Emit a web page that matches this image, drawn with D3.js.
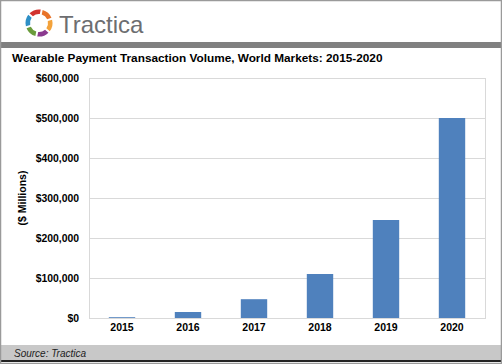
<!DOCTYPE html>
<html>
<head>
<meta charset="utf-8">
<script src="https://cdn.jsdelivr.net/npm/d3@7"></script>
<style>
  body { margin: 0; background: #fff; }
  svg { display: block; font-family: Arial, "Liberation Sans", sans-serif; }
</style>
</head>
<body>
<div id="chart"></div>
<script>
const years = ['2015', '2016', '2017', '2018', '2019', '2020'];
const volume = [2000, 15000, 47000, 110000, 245000, 500000];
const yTicks = [0, 100000, 200000, 300000, 400000, 500000, 600000];

const W = 502, H = 364;
const margin = { top: 78, right: 17, bottom: 46, left: 89 };
const width = W - margin.left - margin.right;
const height = H - margin.top - margin.bottom;

const svg = d3.select('#chart').append('svg')
  .attr('width', W)
  .attr('height', H);

// header gray bar
svg.append('rect')
  .attr('x', 0).attr('y', 42).attr('width', W).attr('height', 6)
  .style('fill', '#808080');

// logo ring
const logo = svg.append('g').attr('transform', 'translate(39,23)');
const logoColors = ['#e8732a', '#f3a23b', '#8b3a8f', '#6a9c3c', '#2e8fc6', '#d2332f'];
const arc = d3.arc().innerRadius(9).outerRadius(13.5).padAngle(0.12);
logoColors.forEach((c, i) => {
  logo.append('path')
    .attr('d', arc({ startAngle: i * Math.PI / 3 + 0.2, endAngle: (i + 1) * Math.PI / 3 + 0.2 }))
    .style('fill', c);
});
svg.append('text')
  .attr('x', 59).attr('y', 33)
  .text('Tractica')
  .style('font-size', '24px')
  .style('fill', '#6d6e71');

// title
svg.append('text')
  .attr('x', 12).attr('y', 62)
  .text('Wearable Payment Transaction Volume, World Markets: 2015-2020')
  .style('font-size', '11.8px')
  .style('font-weight', 'bold')
  .style('fill', '#000');

const g = svg.append('g')
  .attr('transform', `translate(${margin.left},${margin.top})`);

const x = d3.scaleBand()
  .domain(years)
  .range([0, width])
  .paddingInner(0.6)
  .paddingOuter(0.3);

const y = d3.scaleLinear()
  .domain([0, 600000])
  .range([height, 0]);

// gridlines
g.selectAll('line.grid')
  .data(yTicks)
  .enter().append('line')
  .attr('class', 'grid')
  .attr('x1', 0).attr('x2', width)
  .attr('y1', d => y(d)).attr('y2', d => y(d))
  .style('stroke', '#d9d9d9')
  .style('shape-rendering', 'crispEdges');

// plot frame
g.append('rect')
  .attr('x', 0).attr('y', 0).attr('width', width).attr('height', height)
  .style('fill', 'none')
  .style('stroke', '#d9d9d9')
  .style('shape-rendering', 'crispEdges');

g.selectAll('.bar')
  .data(years)
  .enter().append('rect')
  .attr('class', 'bar')
  .attr('x', d => x(d))
  .attr('width', x.bandwidth())
  .attr('y', (d, i) => y(volume[i]))
  .attr('height', (d, i) => height - y(volume[i]))
  .style('fill', '#4f81bd');

const fmt = d3.format('$,');
const yAxis = g.append('g')
  .call(d3.axisLeft(y).tickValues(yTicks).tickFormat(fmt).tickSize(0).tickPadding(10));
yAxis.select('.domain').remove();
yAxis.selectAll('text')
  .style('font-size', '10.4px')
  .style('font-weight', 'bold')
  .style('font-family', 'Arial, "Liberation Sans", sans-serif')
  .style('fill', '#000');

const xAxis = g.append('g')
  .attr('transform', `translate(0,${height})`)
  .call(d3.axisBottom(x).tickSize(0).tickPadding(6));
xAxis.select('.domain').remove();
xAxis.selectAll('text')
  .style('font-size', '10.5px')
  .style('font-weight', 'bold')
  .style('font-family', 'Arial, "Liberation Sans", sans-serif')
  .style('fill', '#000');

// y label
svg.append('text')
  .attr('transform', `translate(26,${margin.top + height / 2}) rotate(-90)`)
  .attr('text-anchor', 'middle')
  .text('($ Millions)')
  .style('font-size', '10.5px')
  .style('font-weight', 'bold');

// footer
svg.append('rect')
  .attr('x', 0).attr('y', 345).attr('width', W).attr('height', 15)
  .style('fill', '#c8c8c8');
svg.append('line')
  .attr('x1', 0).attr('x2', W).attr('y1', 361).attr('y2', 361)
  .style('stroke', '#222').style('stroke-width', 2);
svg.append('text')
  .attr('x', 14).attr('y', 357)
  .text('Source: Tractica')
  .style('font-size', '10px')
  .style('font-style', 'italic')
  .style('fill', '#222');

// outer frame
svg.append('rect')
  .attr('x', 0.5).attr('y', 0.5).attr('width', W - 1).attr('height', H - 1)
  .style('fill', 'none')
  .style('stroke', '#9a9a9a')
  .style('stroke-width', 1.5);
</script>
</body>
</html>
